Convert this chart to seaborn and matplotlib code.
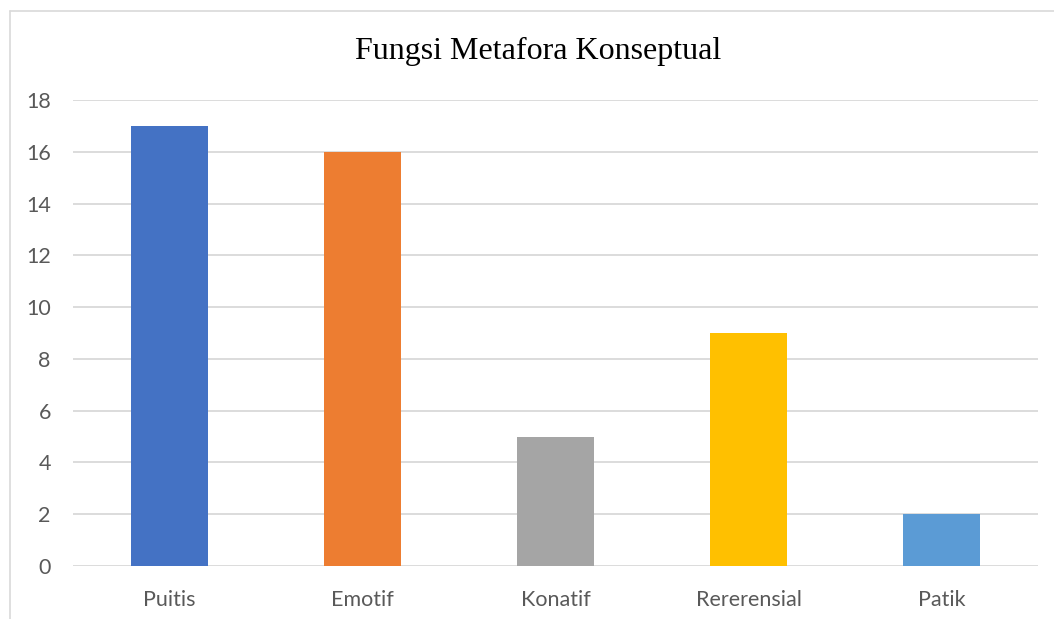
import matplotlib
matplotlib.use("Agg")
import matplotlib.pyplot as plt
import seaborn as sns
from matplotlib.lines import Line2D

categories = ["Puitis", "Emotif", "Konatif", "Rererensial", "Patik"]
values = [17, 16, 5, 9, 2]
colors = ["#4472C4", "#ED7D31", "#A5A5A5", "#FFC000", "#5B9BD5"]
yticks = [0, 2, 4, 6, 8, 10, 12, 14, 16, 18]

sns.set_style("white")
plt.rcParams['font.family'] = ['Lato', 'DejaVu Sans']

fig = plt.figure(figsize=(10.54, 6.19), dpi=100)
ax = fig.add_axes([73/1054, 1-566/619, (1038-73)/1054, (566-100)/619])

sns.barplot(x=categories, y=values, hue=categories, palette=colors,
            width=0.404, saturation=1, legend=False, linewidth=0, ax=ax)

ax.set_ylim(0, 18)
ax.set_xlim(-0.5, 4.5)
ax.set_yticks(yticks)
ax.yaxis.grid(True, color="#D9D9D9", linewidth=1.3)
ax.set_axisbelow(True)
for s in ax.spines.values():
    s.set_visible(False)
ax.tick_params(axis="both", length=0, labelsize=15.5, labelcolor="#595959")
ax.tick_params(axis="y", pad=16)
ax.tick_params(axis="x", pad=17)
ax.set_xlabel("")
ax.set_ylabel("")

fig.text(538/1054, 1-51/619, "Fungsi Metafora Konseptual", ha="center", va="center",
         fontsize=23, family=["Liberation Serif", "DejaVu Serif"], color="black")

# chart frame (partly cropped in reference)
fig.add_artist(Line2D([9.5/1054, 9.5/1054], [0, 1-10.5/619], transform=fig.transFigure,
                      color="#D9D9D9", linewidth=1.2))
fig.add_artist(Line2D([9.5/1054, 1], [1-10.5/619, 1-10.5/619], transform=fig.transFigure,
                      color="#D9D9D9", linewidth=1.2))

fig.savefig("out.png", dpi=100, facecolor="white")
